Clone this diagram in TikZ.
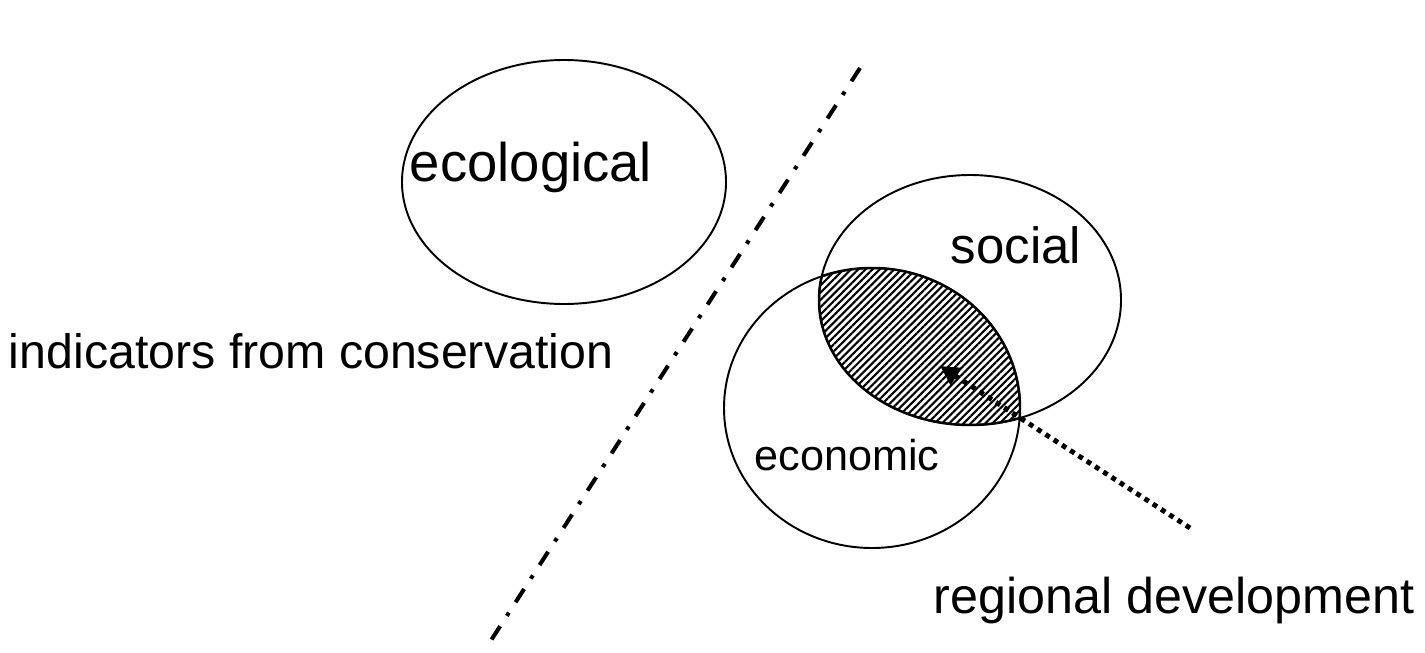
\documentclass[tikz,border=0pt]{standalone}
\usepackage{fontspec}
\setmainfont{Liberation Sans}
\usetikzlibrary{patterns.meta, arrows.meta}

\tikzset{
	label text/.style = {inner sep = 0pt, font = \fontsize{29}{32}\selectfont},
	hatch/.style = {pattern = {Lines[angle = 45, distance = 2.9pt, line width = 1.2pt]}}
}

\begin{document}
\begin{tikzpicture}[x = 0.02cm, y = -0.02cm, line width = 1.1pt]
	\useasboundingbox (0,0) rectangle (1425,652);

	\coordinate (ecoCentre) at (564,182);
	\coordinate (socCentre) at (970,300);
	\coordinate (econCentre) at (872,408);

	\begin{scope}
		\clip (socCentre) ellipse [x radius = 151, y radius = 125];
		\fill [hatch] (econCentre) ellipse [x radius = 148, y radius = 140];
		\draw [line width = 1.4pt] (econCentre) ellipse [x radius = 148, y radius = 140];
	\end{scope}
	\begin{scope}
		\clip (econCentre) ellipse [x radius = 148, y radius = 140];
		\draw [line width = 1.4pt] (socCentre) ellipse [x radius = 151, y radius = 125];
	\end{scope}

	\begin{scope}
		\draw (ecoCentre) ellipse [x radius = 162, y radius = 122];
		\draw (socCentre) ellipse [x radius = 151, y radius = 125];
		\draw (econCentre) ellipse [x radius = 148, y radius = 140];
	\end{scope}

	\begin{scope}
		\node [label text, font = \fontsize{31}{34}\selectfont] (ecological) at (531,167) {ecological};
		\node [label text, font = \fontsize{27.5}{30}\selectfont] (indicators) at (311,351) {indicators from conservation};
		\node [label text] (social) at (1016,245) {social};
		\node [label text, font = \fontsize{24.6}{27}\selectfont] (economic) at (847,455) {economic};
		\node [label text, font = \fontsize{28.6}{31}\selectfont] (regional) at (1174,600) {regional development};
	\end{scope}

	\coordinate (divTop) at (860,68);
	\coordinate (divBottom) at (488,645);
	\draw [line width = 2.3pt, dash pattern = on 9pt off 7pt on 2.2pt off 7pt] (divTop) -- (divBottom);

	\coordinate (arrowStart) at (1190,528);
	\coordinate (arrowEnd) at (940,366);
	\draw [line width = 2.8pt, dash pattern = on 2.8pt off 2.8pt, -{Triangle[width = 11pt, length = 11pt]}] (arrowStart) -- (arrowEnd);
\end{tikzpicture}
\end{document}
